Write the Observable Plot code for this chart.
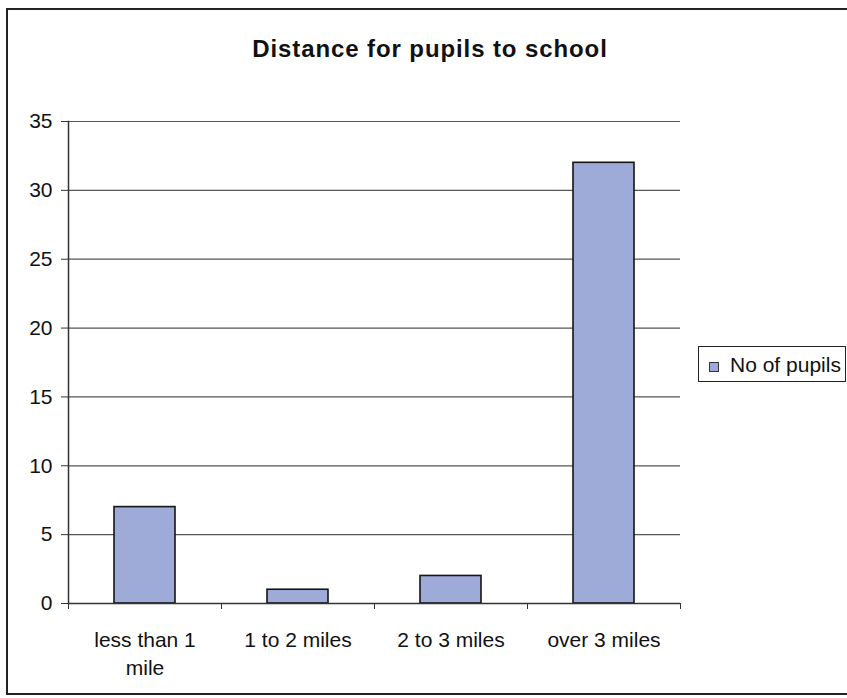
<!DOCTYPE html>
<html>
<head>
<meta charset="utf-8">
<script src="https://cdn.jsdelivr.net/npm/d3@7"></script>
<script src="https://cdn.jsdelivr.net/npm/@observablehq/plot@0.6"></script>
<style>
  body { margin: 0; background: #fff; }
  #wrap { position: relative; width: 847px; height: 698px; overflow: hidden; font-family: "Liberation Sans", Arial, sans-serif; color: #111; background: #fff; }
  #border { position: absolute; left: 6px; top: 8px; width: 870px; height: 687px; border: 2px solid #222; box-sizing: border-box; }
  #title { position: absolute; left: 0; top: 37px; width: 860px; text-align: center; font-weight: bold; font-size: 24px; line-height: 23px; letter-spacing: 0.9px; white-space: nowrap; }
  #chart { position: absolute; left: 0; top: 0; }
  #legend { position: absolute; left: 698px; top: 346px; width: 148px; height: 36px; border: 1.5px solid #222; box-sizing: border-box; background: #fff; }
  #swatch { position: absolute; left: 709px; top: 362px; width: 10px; height: 10px; border: 1px solid #333; box-sizing: border-box; }
  #legtext { position: absolute; left: 730px; top: 354px; font-size: 21px; line-height: 21px; white-space: nowrap; }
</style>
</head>
<body>
<div id="wrap">
  <div id="border"></div>
  <div id="title"></div>
  <div id="chart"></div>
  <div id="legend"></div>
  <div id="swatch"></div>
  <div id="legtext"></div>
</div>
<script>
// ---- data ----
const chartTitle = "Distance for pupils to school";
const categories = ["less than 1 mile", "1 to 2 miles", "2 to 3 miles", "over 3 miles"];
const xTickLabels = ["less than 1\nmile", "1 to 2 miles", "2 to 3 miles", "over 3 miles"];
const pupils = [7, 1, 2, 32];
const yTicks = [0, 5, 10, 15, 20, 25, 30, 35];
const seriesName = "No of pupils";
const barColor = "#9eaad8";

// ---- layout ----
const W = 847, H = 698;
const mL = 68, mR = 167, mT = 121, mB = 95;
const xScaleOpts = { type: "band", domain: categories, paddingInner: 0.6, paddingOuter: 0.3, align: 0.5 };

const data = categories.map((c, i) => ({ category: c, value: pupils[i] }));

const xs = Plot.scale({ x: { ...xScaleOpts, range: [mL, W - mR] } });
const step = xs.step != null ? xs.step : (W - mL - mR) / (categories.length - xScaleOpts.paddingInner + 2 * xScaleOpts.paddingOuter);

const plot = Plot.plot({
  width: W,
  height: H,
  marginLeft: mL,
  marginRight: mR,
  marginTop: mT,
  marginBottom: mB,
  style: { fontFamily: '"Liberation Sans", Arial, sans-serif', fontSize: "21px", color: "#111", background: "transparent", overflow: "visible" },
  x: { ...xScaleOpts, label: null },
  y: { domain: [0, 35], label: null },
  marks: [
    Plot.ruleY(yTicks.filter(v => v > 0), { stroke: "#555", strokeWidth: 1.2 }),
    Plot.barY(data, { x: "category", y: "value", fill: barColor, stroke: "#151515", strokeWidth: 1.6 }),
    Plot.ruleY([0], { stroke: "#333", strokeWidth: 1.5 }),
    Plot.frame({ anchor: "left", stroke: "#333", strokeWidth: 1.5 }),
    Plot.axisY({ ticks: yTicks, tickSize: 7, tickPadding: 9, label: null, stroke: "#333" }),
    Plot.axisX({ ticks: categories, tickSize: 6, dx: -step / 2, tickFormat: () => "", label: null, stroke: "#333" }),
    Plot.axisX({ ticks: [categories[categories.length - 1]], tickSize: 6, dx: step / 2, tickFormat: () => "", label: null, stroke: "#333" }),
    Plot.axisX({ ticks: categories, tickSize: 0, tickPadding: 24, lineHeight: 1.33, label: null,
      tickFormat: d => xTickLabels[categories.indexOf(d)] })
  ]
});
document.getElementById("chart").appendChild(plot);
document.getElementById("title").textContent = chartTitle;
document.getElementById("legtext").textContent = seriesName;
document.getElementById("swatch").style.background = barColor;
</script>
</body>
</html>
